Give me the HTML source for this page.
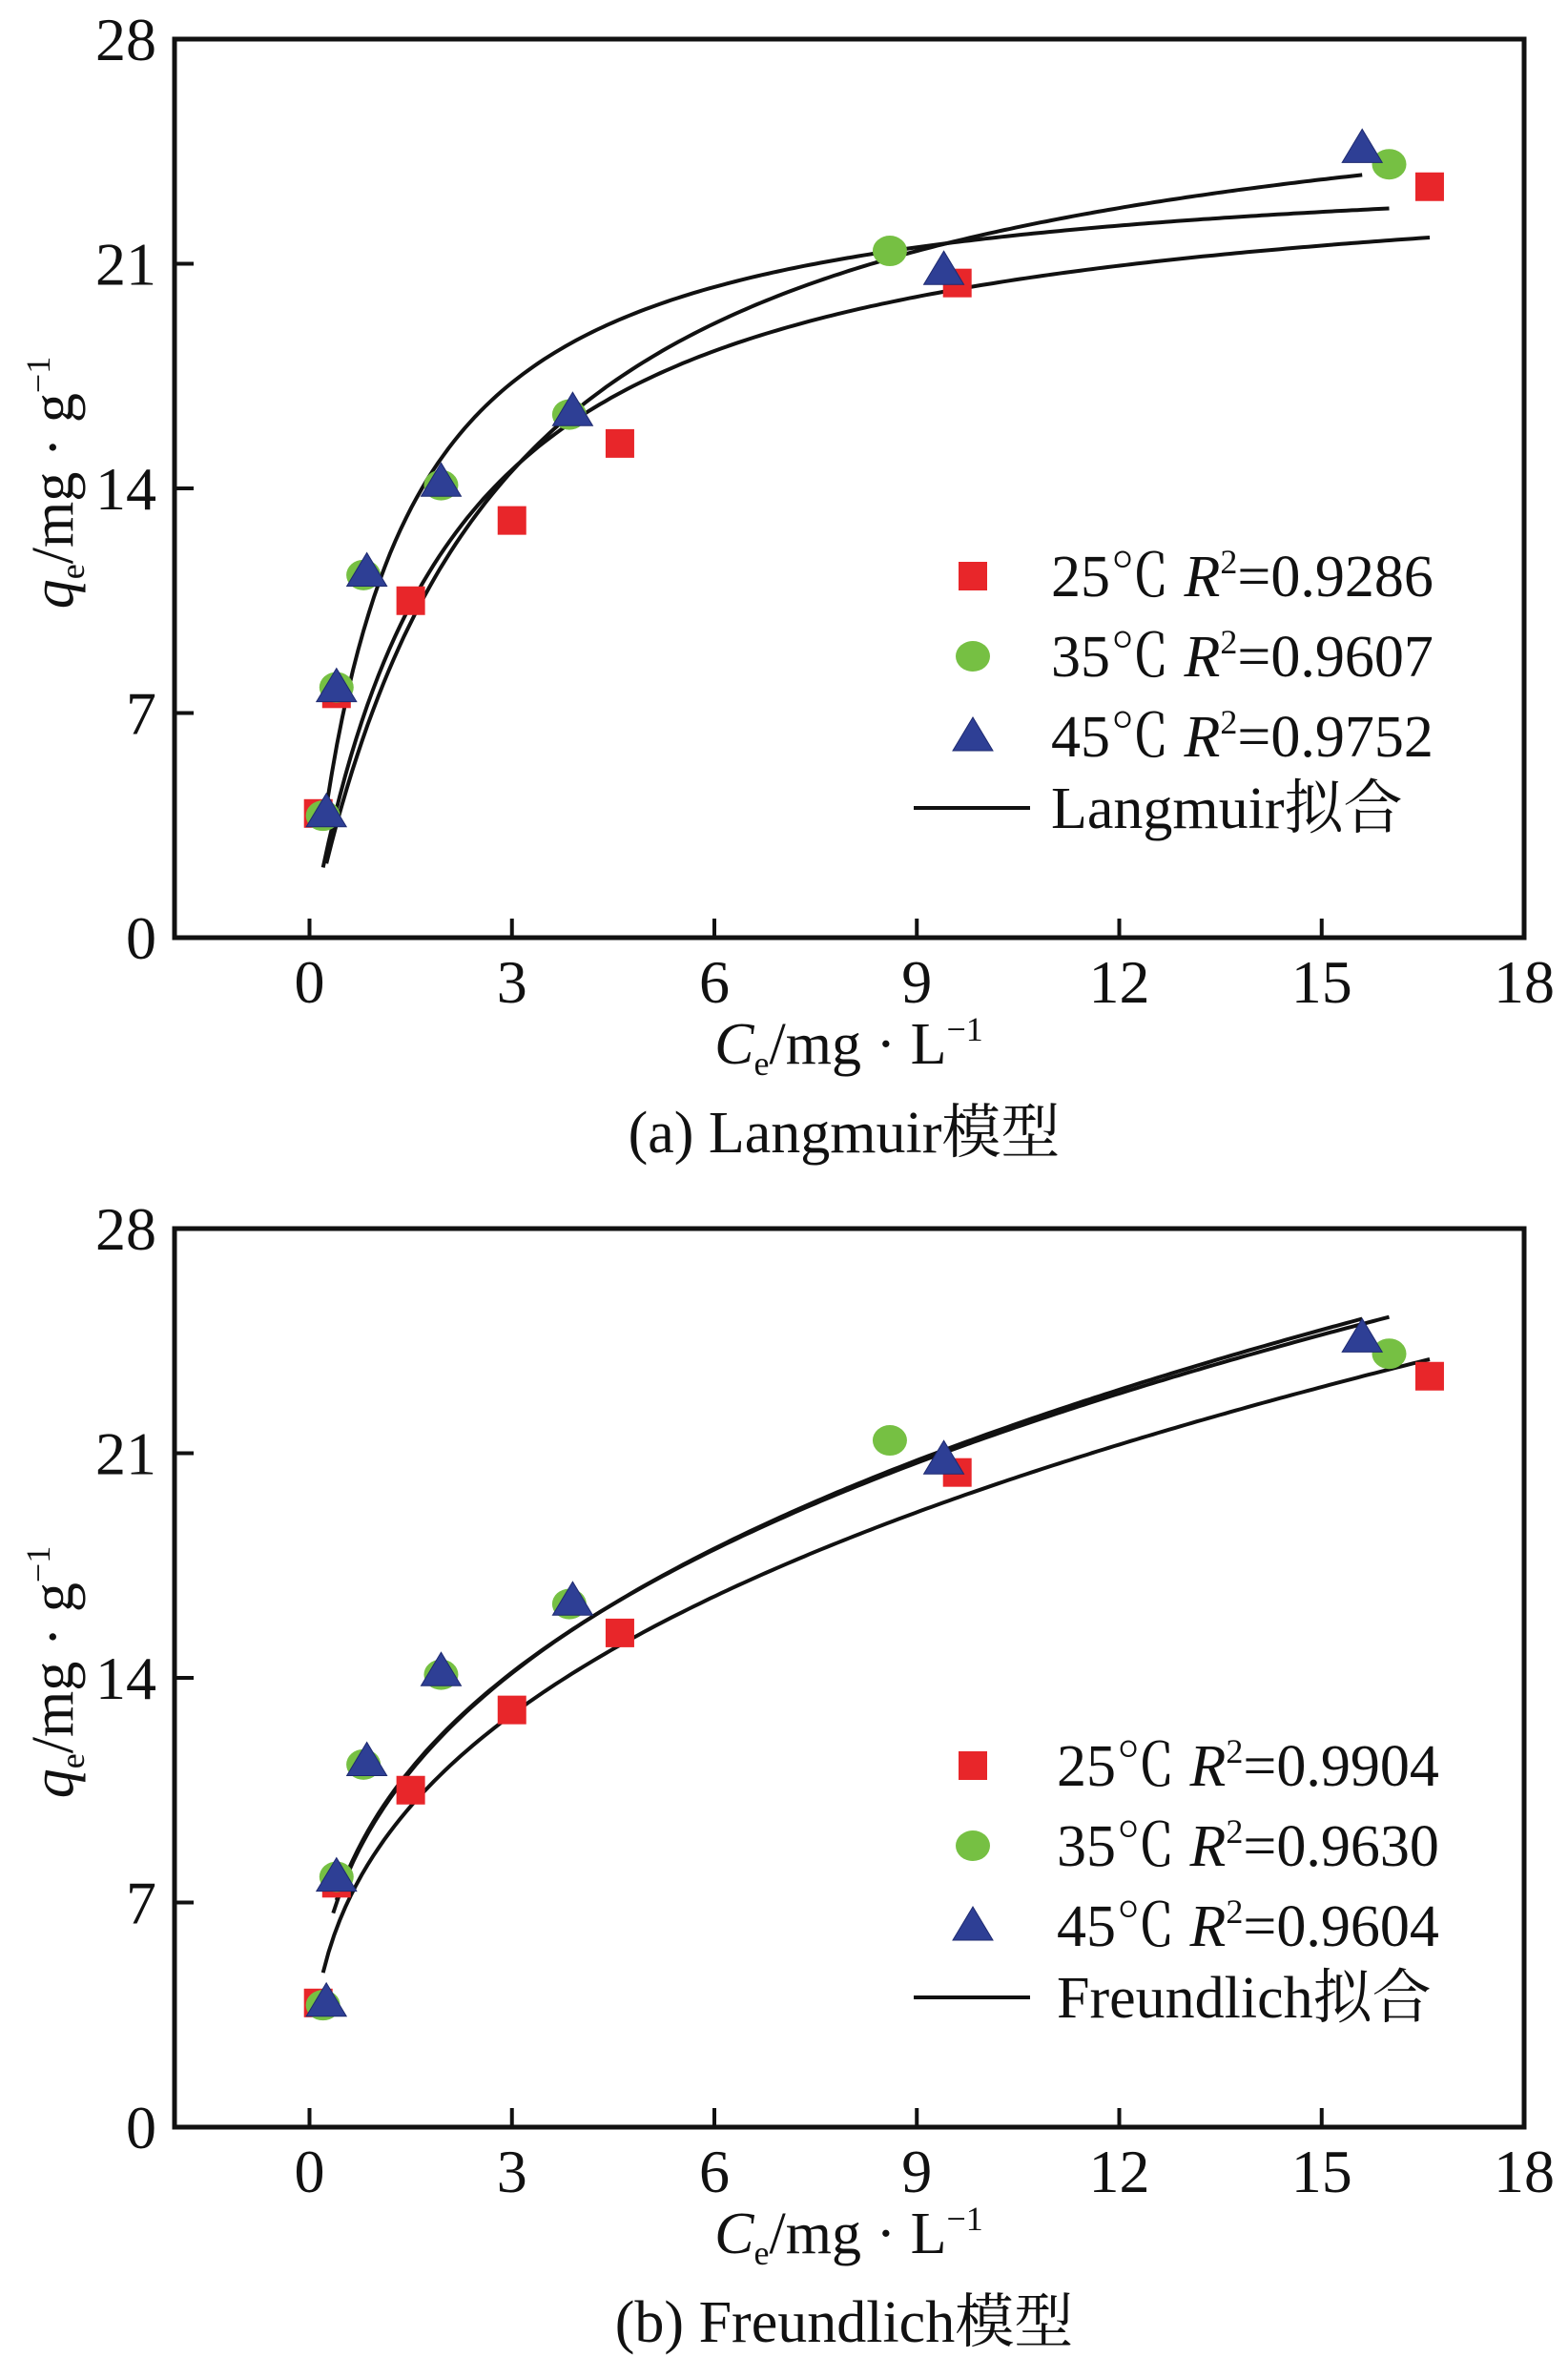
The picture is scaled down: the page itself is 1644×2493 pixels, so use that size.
<!DOCTYPE html>
<html><head><meta charset="utf-8"><style>
html,body{margin:0;padding:0;background:#fff}
svg{display:block}
text{font-family:"Liberation Serif","Noto Serif CJK SC",serif;fill:#111}
</style></head><body>
<svg id="fig" width="1644" height="2493" viewBox="0 0 1644 2493"></svg>
<script>
const xTicks=[0,3,6,9,12,15,18];
const yTicks=[0,7,14,21,28];
const c25=[0.13,0.4,1.5,3.0,4.6,9.6,16.6];
const q25=[3.87,7.6,10.5,13.0,15.4,20.4,23.4];
const c35=[0.2,0.4,0.8,1.95,3.85,8.6,16.0];
const q35=[3.8,7.8,11.3,14.1,16.3,21.4,24.1];
const c45=[0.25,0.4,0.85,1.95,3.9,9.4,15.6];
const q45=[3.9,7.8,11.4,14.2,16.4,20.8,24.6];
const langQm=[24.5,24.5,28.0];
const langK=[0.49,0.8,0.36];
const langStart=[0.2,0.25,0.25];
const langEnd=[16.6,16.0,15.6];
const frKf=[8.63,9.63,9.70];
const frN=[0.363,0.35,0.345];
const frStart=[0.2,0.35,0.4];
const frEnd=[16.6,15.6,16.0];
const r2a=["0.9286","0.9607","0.9752"];
const r2b=["0.9904","0.9630","0.9604"];
const temps=["25","35","45"];

const NS="http://www.w3.org/2000/svg";
const svg=document.getElementById('fig');
function mk(tag,attrs,parent){const e=document.createElementNS(NS,tag);for(const k in attrs)e.setAttribute(k,attrs[k]);(parent||svg).appendChild(e);return e;}

function panel(top,id,curveFn,nCurves,r2,fitName,caption){
  const L=183,R=1598,T=top,B=top+942;
  const g=mk('g',{});
  
  
  const sx=v=>L+(v+2)/20*(R-L);
  const sy=v=>B-v/28*(B-T);
  const fr=mk('rect',{x:L,y:T,width:R-L,height:B-T,fill:'none',stroke:'#111','stroke-width':5},g);
  
  
  xTicks.forEach(t=>{
    const ln=mk('line',{x1:sx(t),x2:sx(t),y1:B,y2:B-20,stroke:'#111','stroke-width':4},g);
    
    
    const tx=mk('text',{x:sx(t),y:B+68,'font-size':64,'text-anchor':'middle'},g);tx.textContent=t;
    
    
  });
  yTicks.forEach(t=>{
    const ln=mk('line',{x1:L,x2:L+20,y1:sy(t),y2:sy(t),stroke:'#111','stroke-width':4},g);
    
    
    const tx=mk('text',{x:164,y:sy(t)+22,'font-size':64,'text-anchor':'end'},g);tx.textContent=t;
    
    
  });
  for(let i=0;i<nCurves;i++){
    const p=curveFn(i);let d='';
    for(let k=0;k<=200;k++){const c=p.s+(p.e-p.s)*k/200;d+=(k?'L':'M')+sx(c).toFixed(1)+','+sy(p.f(c)).toFixed(1);}
    const path=mk('path',{d:d,fill:'none',stroke:'#111','stroke-width':4},g);
    
    
  }
  function sq(x,y,parent){return mk('rect',{x:x-15,y:y-15,width:30,height:30,fill:'#e8262a'},parent);}
  function ci(x,y,parent){return mk('ellipse',{cx:x,cy:y,rx:18,ry:16,fill:'#76c043'},parent);}
  function tr(x,y,parent){return mk('polygon',{points:`${x},${y-20} ${x-21},${y+15} ${x+21},${y+15}`,fill:'#2e3f95',stroke:'#1e2a70','stroke-width':1},parent);}
  c25.forEach((c,i)=>{const e=sq(sx(c),sy(q25[i]),g);});
  c35.forEach((c,i)=>{const e=ci(sx(c),sy(q35[i]),g);});
  c45.forEach((c,i)=>{const e=tr(sx(c),sy(q45[i]),g);});
  const ly=[top+563,top+647,top+731,top+806];
  const lg=mk('g',{},g);
  
  
  const mx=1020, tx0=id==='langmuir'?1102:1108;
  const makers=[sq,ci,tr];
  for(let i=0;i<3;i++){
    makers[i](mx,ly[i],lg);
    const t=mk('text',{x:tx0,y:ly[i]+21,'font-size':62},lg);
    t.innerHTML=temps[i]+'℃ <tspan font-style="italic">R</tspan><tspan font-size="36" dy="-24">2</tspan><tspan dy="24">='+r2[i]+'</tspan>';
    
    
  }
  mk('line',{x1:958,x2:1080,y1:ly[3],y2:ly[3],stroke:'#111','stroke-width':4},lg);
  const lt=mk('text',{x:tx0,y:ly[3]+21,'font-size':62},lg);lt.textContent=fitName;
  
  
  const xt=mk('text',{x:890,y:B+132,'font-size':62,'text-anchor':'middle'},g);
  xt.innerHTML='<tspan font-style="italic">C</tspan><tspan font-size="36" dy="12">e</tspan><tspan dy="-12">/mg · L</tspan><tspan font-size="36" dy="-24">−1</tspan>';
  
  
  const yt=mk('text',{x:0,y:0,'font-size':62,'text-anchor':'middle',transform:`translate(76,${top+465}) rotate(-90)`},g);
  yt.innerHTML='<tspan font-style="italic">q</tspan><tspan font-size="36" dy="12">e</tspan><tspan dy="-12">/mg · g</tspan><tspan font-size="36" dy="-24">−1</tspan>';
  
  
  const cp=mk('text',{x:885,y:B+225,'font-size':62,'text-anchor':'middle'},g);cp.textContent=caption;
  
  
}
panel(41,'langmuir',i=>({s:langStart[i],e:langEnd[i],f:c=>langQm[i]*langK[i]*c/(1+langK[i]*c)}),3,r2a,'Langmuir拟合','(a) Langmuir模型');
panel(1288,'freundlich',i=>({s:frStart[i],e:frEnd[i],f:c=>frKf[i]*Math.pow(c,frN[i])}),3,r2b,'Freundlich拟合','(b) Freundlich模型');
</script>
</body></html>
